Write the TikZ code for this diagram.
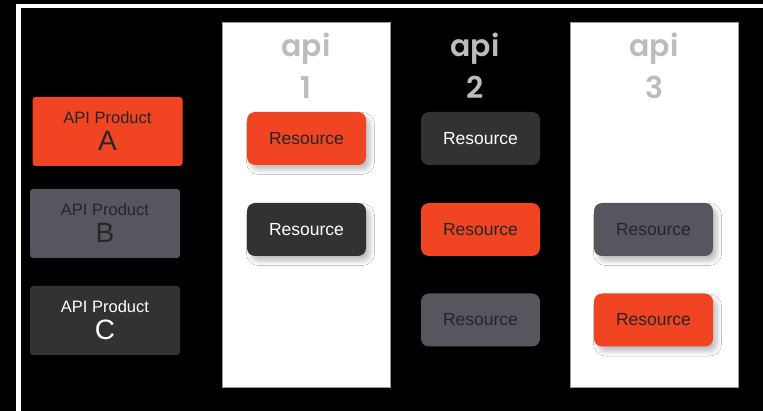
\documentclass[tikz,border=0pt]{standalone}
\usepackage{fontspec}
\setmainfont{Liberation Sans}
\newfontfamily\apifont{Poppins SemiBold}
\usetikzlibrary{shadows,shadows.blur}
\definecolor{accent}{HTML}{F04423}
\definecolor{slate}{HTML}{56565E}
\definecolor{coal}{HTML}{323232}
\definecolor{apigrey}{HTML}{BBBCC0}
\tikzset{
  product/.style={rounded corners=3pt, minimum width=150pt, minimum height=69pt,
    align=center, inner sep=0pt, font=\fontsize{16.5}{27}\selectfont},
  resource/.style={rounded corners=8pt, minimum width=119pt, minimum height=53pt,
    inner sep=0pt, font=\fontsize{17.5}{20}\selectfont},
  shadowed/.style={blur shadow={shadow xshift=4pt, shadow yshift=-5pt,
    shadow blur radius=4.5pt, shadow blur steps=8, shadow opacity=25}},
  lane/.style={fill=white, draw=black!40, line width=0.6pt},
  apilabel/.style={font=\apifont\fontsize{30}{42}\selectfont, text=apigrey,
    align=center, inner sep=0pt},
}
\newcommand{\prodtext}[1]{API Product\\{\fontsize{28}{27}\selectfont #1}}
\begin{document}
\begin{tikzpicture}[x=1pt,y=-1pt]
  % canvas
  \fill[black] (0,0) rectangle (763,411);
  \useasboundingbox (0,0) rectangle (763,411);
  % white border along top and left
  \fill[white] (16,4) rectangle (763,8.5);
  \fill[white] (16,4) rectangle (21,411);

  % api lanes
  \filldraw[lane] (222,22) rectangle (390,387);
  \filldraw[lane] (570,22) rectangle (738,387);

  \node[apilabel] (api1) at (306,66) {api\\1};
  \node[apilabel] (api2) at (475,66) {api\\2};
  \node[apilabel] (api3) at (654,66) {api\\3};

  % products
  \node[product, fill=accent, text=black!85] (pa) at (107.5,131.5) {\prodtext{A}};
  \node[product, fill=slate, text=black!85] (pb) at (105,223.5) {\prodtext{B}};
  \node[product, fill=coal, text=white] (pc) at (105,320.5) {\prodtext{C}};

  % resources of api 1
  \node[resource, shadowed, fill=accent, text=black!85] (r11) at (306.5,138.5) {Resource};
  \node[resource, shadowed, fill=coal, text=white] (r12) at (306.5,229.5) {Resource};
  % resources of api 2
  \node[resource, fill=coal, text=white] (r21) at (480.5,138.5) {Resource};
  \node[resource, fill=accent, text=black!85] (r22) at (480.5,229.5) {Resource};
  \node[resource, fill=slate, text=black!85] (r23) at (480.5,320) {Resource};
  % resources of api 3
  \node[resource, shadowed, fill=slate, text=black!85] (r32) at (653.5,229.5) {Resource};
  \node[resource, shadowed, fill=accent, text=black!85] (r33) at (653.5,320) {Resource};
\end{tikzpicture}
\end{document}
